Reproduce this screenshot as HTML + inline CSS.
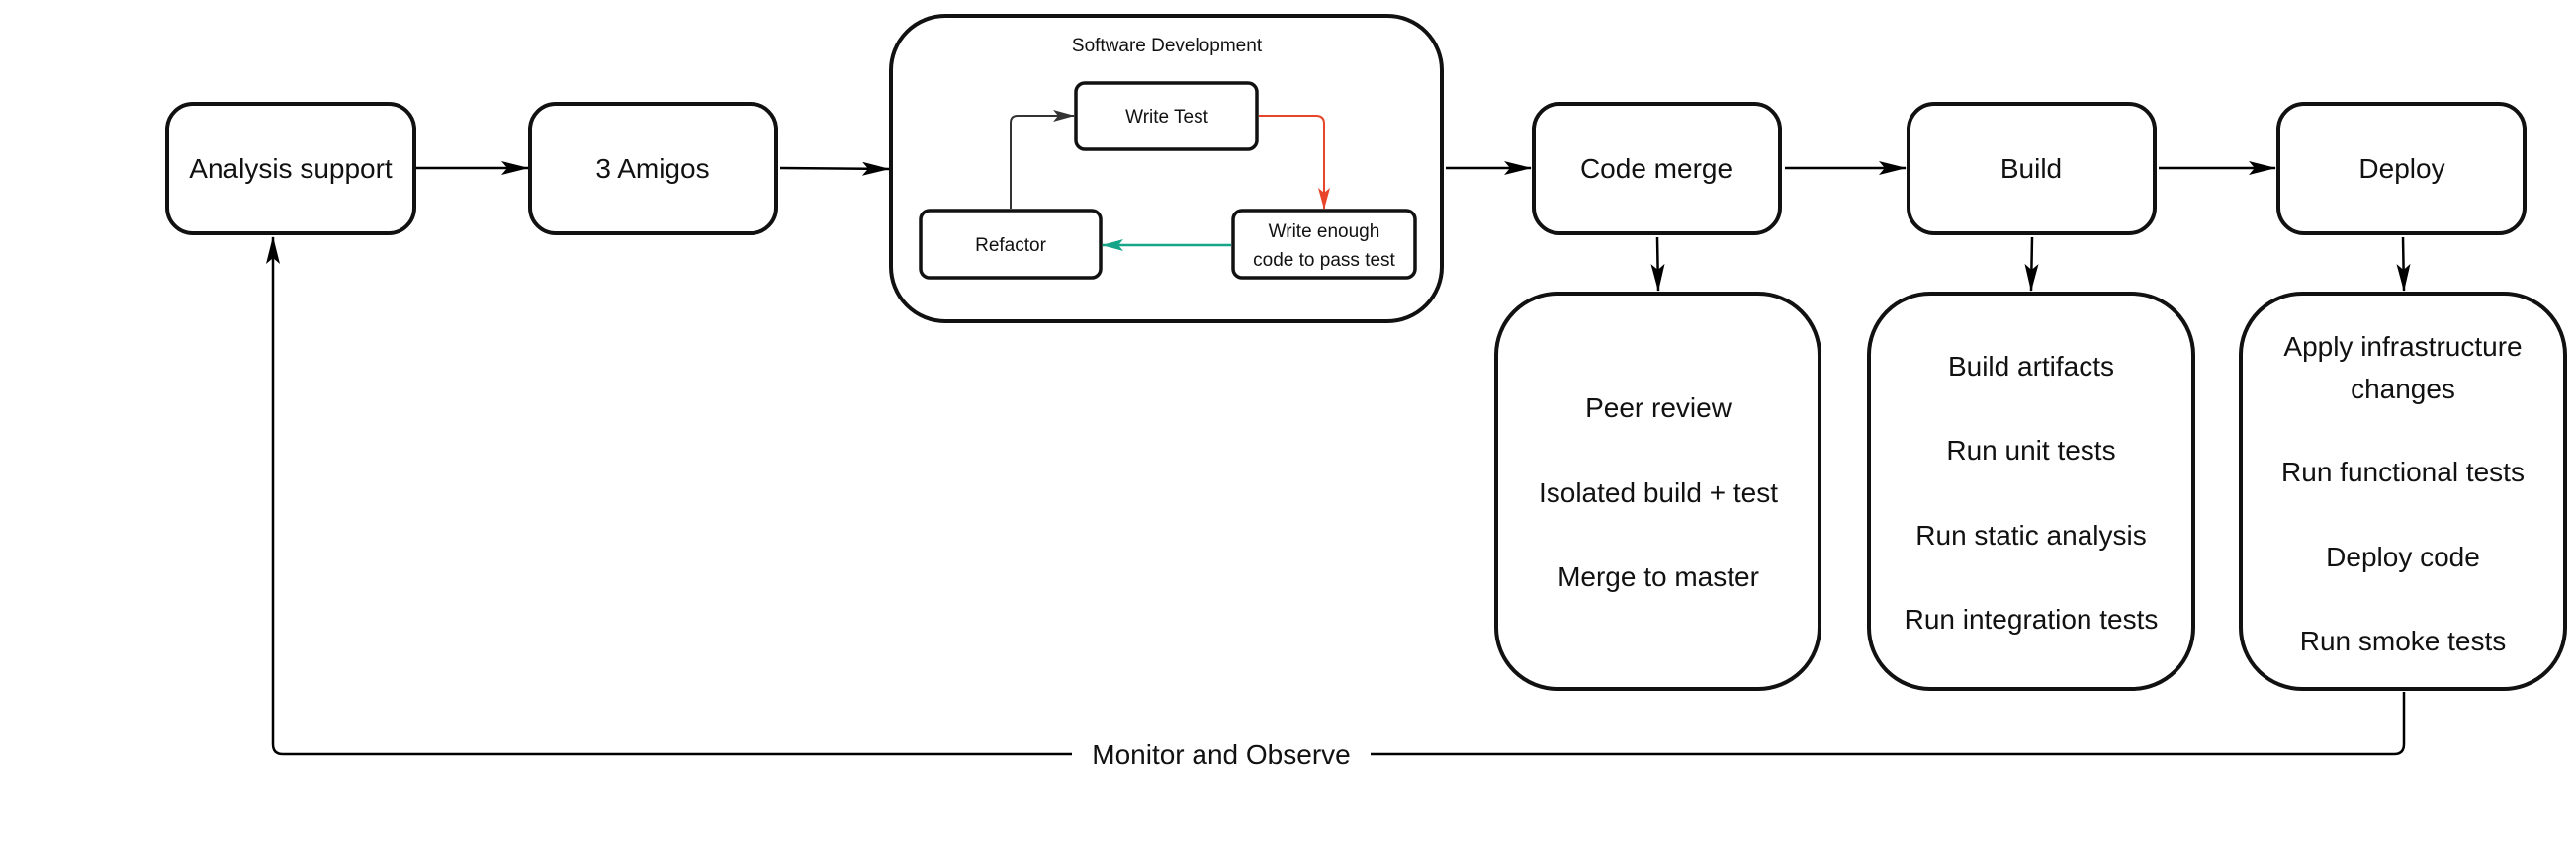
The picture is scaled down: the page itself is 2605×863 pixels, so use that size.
<!DOCTYPE html>
<html><head><meta charset="utf-8"><style>
html,body{margin:0;padding:0;background:#fff;}
svg{display:block;}
text{font-family:"Liberation Sans",sans-serif;fill:#111;}
</style></head><body>
<svg width="2605" height="863" viewBox="0 0 2605 863" xmlns="http://www.w3.org/2000/svg">
<defs>
<marker id="abig" markerWidth="28" markerHeight="14" refX="27" refY="7" orient="auto" markerUnits="userSpaceOnUse"><path d="M0,0 L28,7 L0,14 L6,7 Z" fill="#000"/></marker>
<marker id="ar" markerWidth="22" markerHeight="12" refX="21" refY="6" orient="auto" markerUnits="userSpaceOnUse"><path d="M0,0 L22,6 L0,12 L5,6 Z" fill="#e8452b"/></marker>
<marker id="ag" markerWidth="22" markerHeight="12" refX="21" refY="6" orient="auto" markerUnits="userSpaceOnUse"><path d="M0,0 L22,6 L0,12 L5,6 Z" fill="#17a589"/></marker>
<marker id="ad" markerWidth="22" markerHeight="12" refX="21" refY="6" orient="auto" markerUnits="userSpaceOnUse"><path d="M0,0 L22,6 L0,12 L5,6 Z" fill="#333"/></marker>
</defs>
<g fill="none" stroke="#111" stroke-width="4">
<rect x="169" y="105" width="250" height="131" rx="26"/>
<rect x="536" y="105" width="249" height="131" rx="26"/>
<rect x="901" y="16" width="557" height="309" rx="55"/>
<rect x="1551" y="105" width="249" height="131" rx="26"/>
<rect x="1930" y="105" width="249" height="131" rx="26"/>
<rect x="2304" y="105" width="249" height="131" rx="26"/>
<rect x="1513" y="297" width="327" height="400" rx="62"/>
<rect x="1890" y="297" width="328" height="400" rx="62"/>
<rect x="2266" y="297" width="328" height="400" rx="62"/>
<g stroke-width="3.5">
<rect x="1088" y="84" width="183" height="67" rx="9"/>
<rect x="931" y="213" width="182" height="68" rx="9"/>
<rect x="1247" y="213" width="184" height="68" rx="9"/>
</g>
</g>
<g fill="none" stroke="#000" stroke-width="2.5">
<line x1="421" y1="170" x2="534" y2="170" marker-end="url(#abig)"/>
<line x1="789" y1="170" x2="899" y2="171" marker-end="url(#abig)"/>
<line x1="1462" y1="170" x2="1548" y2="170" marker-end="url(#abig)"/>
<line x1="1805" y1="170" x2="1927" y2="170" marker-end="url(#abig)"/>
<line x1="2183" y1="170" x2="2301" y2="170" marker-end="url(#abig)"/>
<line x1="1676" y1="240" x2="1677" y2="294" marker-end="url(#abig)"/>
<line x1="2055" y1="240" x2="2054" y2="294" marker-end="url(#abig)"/>
<line x1="2430" y1="240" x2="2431" y2="294" marker-end="url(#abig)"/>
<path d="M2431,700 L2431,753 Q2431,763 2421,763 L1386,763"/>
<path d="M1084,763 L286,763 Q276,763 276,753 L276,240" marker-end="url(#abig)"/>
<path d="M1022,211 L1022,124 Q1022,117 1029,117 L1086,117" stroke="#333" stroke-width="2" marker-end="url(#ad)"/>
<path d="M1273,117 L1331,117 Q1339,117 1339,125 L1339,211" stroke="#e8452b" stroke-width="2" marker-end="url(#ar)"/>
<line x1="1245" y1="248" x2="1115" y2="248" stroke="#17a589" stroke-width="2.5" marker-end="url(#ag)"/>
</g>
<g font-size="28" text-anchor="middle">
<text x="294" y="180">Analysis support</text>
<text x="660" y="180">3 Amigos</text>
<text x="1675" y="180">Code merge</text>
<text x="2054" y="180">Build</text>
<text x="2429" y="180">Deploy</text>
<text x="1677" y="422">Peer review</text>
<text x="1677" y="508">Isolated build + test</text>
<text x="1677" y="593">Merge to master</text>
<text x="2054" y="380">Build artifacts</text>
<text x="2054" y="465">Run unit tests</text>
<text x="2054" y="551">Run static analysis</text>
<text x="2054" y="636">Run integration tests</text>
<text x="2430" y="360">Apply infrastructure</text>
<text x="2430" y="403">changes</text>
<text x="2430" y="487">Run functional tests</text>
<text x="2430" y="573">Deploy code</text>
<text x="2430" y="658">Run smoke tests</text>
<text x="1235" y="773">Monitor and Observe</text>
</g>
<g font-size="19" text-anchor="middle">
<text x="1180" y="52">Software Development</text>
<text x="1180" y="124">Write Test</text>
<text x="1022" y="254">Refactor</text>
<text x="1339" y="240">Write enough</text>
<text x="1339" y="269">code  to pass test</text>
</g>
</svg>
</body></html>
